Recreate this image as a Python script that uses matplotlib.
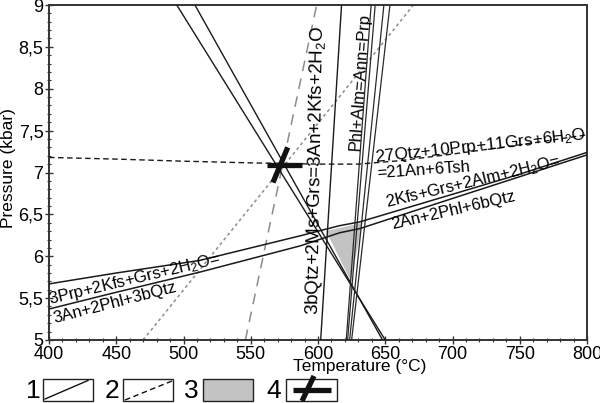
import numpy as np
import matplotlib
matplotlib.use("Agg")
import matplotlib.pyplot as plt
from matplotlib.patches import Rectangle, Polygon
from matplotlib.ticker import MultipleLocator

plt.rcParams['font.family'] = ['Liberation Sans', 'DejaVu Sans']
plt.rcParams['mathtext.fontset'] = 'custom'
plt.rcParams['mathtext.rm'] = 'Liberation Sans'
plt.rcParams['mathtext.it'] = 'Liberation Sans'

# Reaction lines (T in degC, P in kbar)
# two steep lines going down to the right
steepT = [[495, 650], [508.5, 648]]
steepP = [[9, 5], [9, 5]]
# near vertical line 3bQtz+2Ms+Grs=3An+2Kfs+2H2O
vertT = [602, 617.5]
vertP = [5, 9]
# bundle Phl+Alm=Ann=Prp
bundleT = [[621, 639.5], [622, 642.5], [623.5, 649], [625, 653.5]]
bundleP = [[5, 9], [5, 9], [5, 9], [5, 9]]
# gently rising pair (3Prp.../2Kfs...)
upperT = [400, 450, 512, 587, 616, 631, 700, 750, 800]
upperP = [5.67, 5.80, 5.95, 6.245, 6.365, 6.41, 6.74, 6.98, 7.24]
lowerT = [400, 450, 512, 587, 616, 631, 700, 750, 800]
lowerP = [5.37, 5.57, 5.81, 6.125, 6.28, 6.33, 6.69, 6.95, 7.21]
# dashed reaction 27Qtz+10Prp+11Grs+6H2O=21An+6Tsh
dashT = [400, 450, 500, 550, 600, 630, 660, 700, 750, 800]
dashP = [7.18, 7.16, 7.135, 7.115, 7.10, 7.10, 7.14, 7.22, 7.33, 7.45]
# gray dotted and gray dashed lines
dotT = [470, 671]
dotP = [5, 9]
gdashT = [546, 599]
gdashP = [5, 9]
# gray field (3)
fieldT = [606, 633, 624.5]
fieldP = [6.30, 6.40, 5.70]
# P-T estimate (4)
starT = 575
starP = 7.09

xticks = [400, 450, 500, 550, 600, 650, 700, 750, 800]
yticks = [5, 5.5, 6, 6.5, 7, 7.5, 8, 8.5, 9]
yticklabels = ['5', '5,5', '6', '6,5', '7', '7,5', '8', '8,5', '9']

fig = plt.figure(figsize=(6, 4.03), dpi=100)
ax = fig.add_axes([49/600, 1-340/403, 538/600, 335/403])

# Gray field
ax.add_patch(Polygon(list(zip(fieldT, fieldP)), closed=True, facecolor='#c3c3c3', edgecolor='none', zorder=1))

# Gray lines
ax.plot(dotT, dotP, color='#8c8c8c', lw=1.1, dashes=(2, 2), zorder=2)
ax.plot(gdashT, gdashP, color='#8c8c8c', lw=1.1, dashes=(7, 5), zorder=2)

# Solid lines
for i in range(0, len(steepT)):
	ax.plot(steepT[i], steepP[i], color='#1a1a1a', lw=1.0, zorder=3)
ax.plot(vertT, vertP, color='#1a1a1a', lw=1.0, zorder=3)
for i in range(0, len(bundleT)):
	ax.plot(bundleT[i], bundleP[i], color='#2a2a2a', lw=0.9, zorder=3)
ax.plot(upperT, upperP, color='#1a1a1a', lw=1.1, zorder=3)
ax.plot(lowerT, lowerP, color='#1a1a1a', lw=1.1, zorder=3)

# Dashed black line
ax.plot(dashT, dashP, color='#1a1a1a', lw=1.0, dashes=(4, 2.5), zorder=3)

# P-T estimate symbol
ax.plot([starT-13, starT+13], [starP, starP], color='#111111', lw=3.8, solid_capstyle='butt', zorder=5)
ax.plot([starT-8.5, starT+2.5], [starP-0.21, starP+0.21], color='#111111', lw=3.8, solid_capstyle='butt', zorder=5)

# Labels of reactions
fs = 12
ax.text(598.4, 7.03, '3bQtz+2Ms+Grs=3An+2Kfs+2H$_2$O', rotation=89, ha='center', va='center', fontsize=13.5, zorder=6)
ax.text(631.2, 8.08, 'Phl+Alm=Ann=Prp', rotation=86, ha='center', va='center', fontsize=fs, zorder=6)
ax.text(642.4, 7.13, '27Qtz+10Prp+11Grs+6H$_2$O', rotation=6.2, ha='left', va='baseline', rotation_mode='anchor', fontsize=12.3, zorder=6)
ax.text(643.9, 6.93, '=21An+6Tsh', rotation=4, ha='left', va='baseline', rotation_mode='anchor', fontsize=fs, zorder=6)
ax.text(651.3, 6.58, '2Kfs+Grs+2Alm+2H$_2$O=', rotation=13.5, ha='left', va='baseline', rotation_mode='anchor', fontsize=fs, zorder=6)
ax.text(655, 6.33, '2An+2Phl+6bQtz', rotation=13, ha='left', va='baseline', rotation_mode='anchor', fontsize=fs, zorder=6)
ax.text(400.7, 5.43, '3Prp+2Kfs+Grs+2H$_2$O=', rotation=13.5, ha='left', va='baseline', rotation_mode='anchor', fontsize=fs, zorder=6)
ax.text(404.5, 5.20, '3An+2Phl+3bQtz', rotation=14.5, ha='left', va='baseline', rotation_mode='anchor', fontsize=fs, zorder=6)

# Axes
ax.set_xlim(400, 800)
ax.set_ylim(5, 9)
ax.set_xticks(xticks)
ax.set_yticks(yticks)
ax.set_yticklabels(yticklabels)
ax.xaxis.set_minor_locator(MultipleLocator(10))
ax.yaxis.set_minor_locator(MultipleLocator(0.1))
ax.tick_params(which='major', direction='inout', length=6, width=1.0, labelsize=13, pad=1, color='#333333')
ax.tick_params(which='minor', direction='inout', length=3, width=0.8, color='#333333')
for s in ax.spines.values():
	s.set_linewidth(1.4)
	s.set_color('#333333')
ax.set_xlabel('Temperature (°C)', fontsize=12.5)
ax.xaxis.set_label_coords(0.578, -0.058)
ax.set_ylabel('Pressure (kbar)', fontsize=12.5)
ax.yaxis.set_label_coords(-0.062, 0.513)

# Legend drawn in pixel coordinates
lg = fig.add_axes([0, 0, 1, 1], facecolor='none')
lg.set_xlim(0, 600)
lg.set_ylim(403, 0)
lg.axis('off')
boxX = [42.7, 122.7, 202.7, 286]
numX = [33, 112, 191, 274]
for i in range(0, 4):
	fc = '#c3c3c3' if i == 2 else 'white'
	lg.add_patch(Rectangle((boxX[i], 379), 50.5, 22, facecolor=fc, edgecolor='#222222', lw=1.0))
	lg.text(numX[i], 391, str(i+1), fontsize=19, ha='center', va='center')
lg.plot([45, 88], [399, 380.5], color='#111111', lw=1.0)
lg.plot([125, 172], [400, 381], color='#111111', lw=1.0, dashes=(4, 2.5))
lg.plot([293, 331], [390, 390], color='#111111', lw=3.8, solid_capstyle='butt')
lg.plot([302, 314], [401, 376], color='#111111', lw=3.8, solid_capstyle='butt')

plt.savefig('out.png', dpi=100)
